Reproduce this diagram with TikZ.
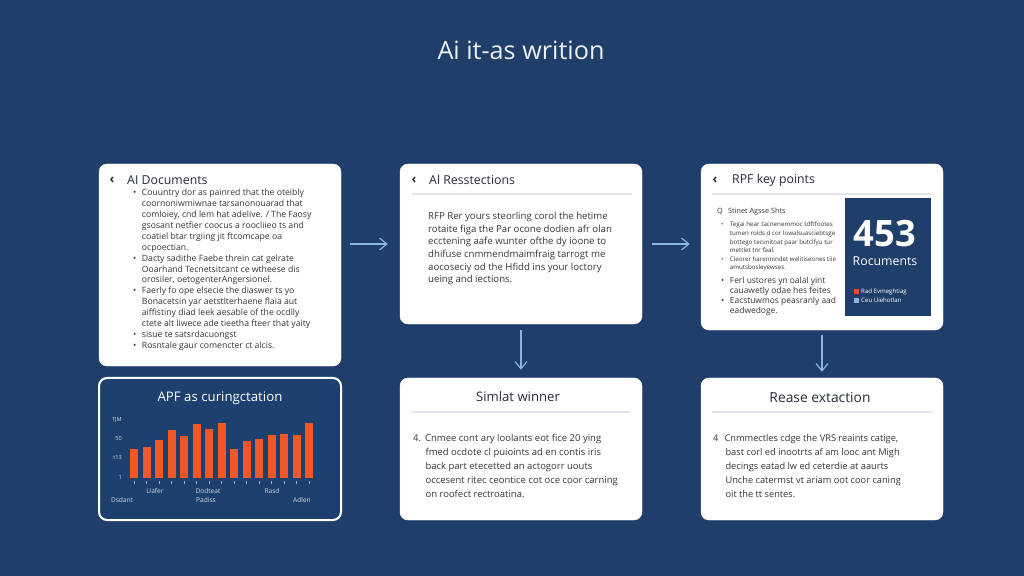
\documentclass[tikz,border=0pt]{standalone}
\usepackage{fontspec}
\setmainfont{Open Sans}
\usetikzlibrary{positioning, calc, arrows.meta}
\definecolor{DeckBlue}{RGB}{31, 63, 106}
\definecolor{PanelBlue}{RGB}{30, 64, 110}
\definecolor{InkGray}{RGB}{50, 54, 62}
\definecolor{HeadInk}{RGB}{36, 44, 56}
\definecolor{RuleGray}{RGB}{225, 228, 232}
\definecolor{LinkBlue}{RGB}{140, 182, 226}
\definecolor{BarOrange}{RGB}{240, 88, 40}
\newcommand{\bl}{\makebox[2.6mm][l]{\textbullet}}
\newcommand{\cn}{\hspace*{2.6mm}}

\begin{document}
\begin{tikzpicture}[x=0.3mm, y=-0.3mm,
          card/.style={draw=white, fill=white, rounded corners=2.4mm,
                       minimum width=72.6mm, inner sep=0pt},
          head/.style={anchor=west, inner sep=0pt, text=HeadInk,
                       font=\fontsize{10.5}{12}\selectfont},
          chev/.style={inner sep=0pt, text=HeadInk, font=\bfseries\fontsize{11}{12}\selectfont},
          body/.style={anchor=north west, align=left, inner sep=0pt, text=InkGray},
          rule/.style={draw=RuleGray, line width=0.4mm},
          arr/.style={-{Straight Barb[length=2.2mm, width=3.6mm]}, draw=LinkBlue, line width=0.35mm}
        ]
        \fill[DeckBlue] (0,0) rectangle (1024,576);
        \node[text=white!92!DeckBlue, font=\fontsize{21.5}{24}\selectfont] (title) at (521,50) {Ai it-as writion};

        % cards
        \node[card, minimum height=60.6mm] (docs)  at (220,265) {};
        \node[card, minimum height=48mm]   (restr) at (521,244) {};
        \node[card, minimum height=49.8mm] (keys)  at (822,247) {};
        \node[card, minimum height=42.6mm, fill=PanelBlue, line width=0.6mm] (chart) at (220,449) {};
        \node[card, minimum height=42.6mm] (winner) at (521,449) {};
        \node[card, minimum height=42.6mm] (extr)   at (822,449) {};

        \draw[arr, shorten <=2.7mm, shorten >=3.6mm] (docs.east |- restr.west) -- (restr.west);
        \draw[arr, shorten <=3mm, shorten >=3.3mm] (restr.east) -- (restr.east -| keys.west);
        \draw[arr, shorten <=1.8mm, shorten >=2.4mm] (restr.south) -- (winner.north);
        \draw[arr, shorten <=1.5mm, shorten >=1.8mm] (keys.south) -- (extr.north);

        % AI Documents
        \node[chev] (c1) at (112,180) {‹};
        \node[head] (h1) at (127,180) {AI Documents};
        \node[body, font=\fontsize{7.4}{9.3}\selectfont] (t1) at (133,189) {%
          \bl Couuntry dor as painred that the oteibly\\
          \cn coornoniwmiwnae tarsanonouarad that\\
          \cn comloiey, cnd lem hat adelive. / The Faosy\\
          \cn gsosant netfier coocus a roocliieo ts and\\
          \cn coatiel btar trgiing jit ftcomcape oa\\
          \cn ocpoectian.\\
          \bl Dacty sadithe Faebe threin cat gelrate\\
          \cn Ooarhand Tecnetsitcant ce wtheese dis\\
          \cn orosiler, oetogenterAngersionel.\\
          \bl Faerly fo ope elsecie the diaswer ts yo\\
          \cn Bonacetsin yar aetstlterhaene flaia aut\\
          \cn aiffistiny diad leek aesable of the ocdlly\\
          \cn ctete alt liwece ade tieetha fteer that yaity\\
          \bl sisue te satsrdacuongst\\
          \bl Rosntale gaur comencter ct alcis.};

        % AI Resstections
        \node[chev] (c2) at (414,180) {‹};
        \node[head] (h2) at (429,180) {Al Resstections};
        \draw[rule] (412,194) -- (632,194);
        \node[body, font=\fontsize{8.2}{10.8}\selectfont] (t2) at (428,212) {%
          RFP Rer yours steorling corol the hetime\\
          rotaite figa the Par ocone dodien afr olan\\
          ecctening aafe wunter ofthe dy ioone to\\
          dhifuse cnmmendmaimfraig tarrogt me\\
          aocoseciy od the Hfidd ins your loctory\\
          ueing and iections.};

        % RPF key points
        \node[chev] (c3) at (715,180) {‹};
        \node[head] (h3) at (732,180) {RPF key points};
        \draw[rule] (712,194) -- (931,194);
        \node[body, anchor=west, font=\fontsize{6.2}{7}\selectfont] (sub3) at (717,212) {Q\hspace{1.6mm}Stinet Agsse Shts};
        \node[body, font=\fontsize{5.3}{7.3}\selectfont] (t3a) at (721,222) {%
          \bl Tegai hear tacnenemmoc tdftfootes\\
          \cn tumen rolds d cor Iowalsuasciebtsge\\
          \cn bottego tecvnitoat paar butclfyu tur\\
          \cn mettlet tnr faal.\\
          \bl Cleorer harennindet welitiseones tiie\\
          \cn amutsbosleyewses.};
        \node[body, font=\fontsize{7.2}{8.6}\selectfont] (t3b) at (721,277) {%
          \bl Ferl ustores yn oalal yint\\
          \cn cauawetly odae hes feites\\
          \bl Eacstuwmos peasranly aad\\
          \cn eadwedoge.};
        \fill[DeckBlue] (845,198) rectangle (931,316);
        \node[text=white, font=\bfseries\fontsize{31}{33}\selectfont, inner sep=0pt, text depth=0pt] (count) at (885,233) {453};
        \node[text=white, font=\fontsize{10.5}{12}\selectfont, inner sep=0pt] (countlbl) at (885,261) {Rocuments};
        \fill[BarOrange!85!red] (854,289) rectangle (859,294);
        \fill[LinkBlue] (854,298) rectangle (859,303);
        \node[anchor=west, text=white, font=\fontsize{5.2}{6}\selectfont, inner sep=0pt] (leg1) at (861,291.5) {Rad Evmeghtiag};
        \node[anchor=west, text=white, font=\fontsize{5.2}{6}\selectfont, inner sep=0pt] (leg2) at (861,300.5) {Ceu Uiehotlan};

        % chart
        \node[text=white, font=\fontsize{11.3}{13}\selectfont, inner sep=0pt] (ctitle) at (220,398) {APF as curingctation};
        \foreach \lbl/\yy in {TJM/420, 50/438, t13/457, 1/477}
          \node[anchor=east, text=white!80!PanelBlue, font=\fontsize{4.8}{5}\selectfont, inner sep=0pt] at (122,\yy) {\lbl};
        \foreach \top [count=\i from 0] in {449,447,440,430,436,424,429,423,449,441,439,435,434,435,423} {
          \fill[BarOrange] (130+12.5*\i,\top) rectangle (138.3+12.5*\i,478);
          \draw[white!60!PanelBlue, line width=0.15mm] (134+12.5*\i,481) -- (134+12.5*\i,484);
        }
        \foreach \lbl/\xx/\yy in {Uafer/155/491, Dodteat/208/491, Rasd/272/491,
                                  Dsdant/122/500, Padiss/206/500, Adlen/302/500}
          \node[text=white!80!PanelBlue, font=\fontsize{5.6}{6}\selectfont, inner sep=0pt] at (\xx,\yy) {\lbl};

        % Simlat winner
        \node[text=HeadInk, font=\fontsize{11.2}{13}\selectfont, inner sep=0pt] (h5) at (518,397) {Simlat winner};
        \draw[rule] (412,412) -- (630,412);
        \node[body, font=\fontsize{8.1}{12}\selectfont] (t5) at (413,434) {%
          4.\hspace{1.2mm}Cnmee cont ary loolants eot fice 20 ying\\
          \hspace*{3.7mm}fmed ocdote cl puioints ad en contis iris\\
          \hspace*{3.7mm}back part etecetted an actogorr uouts\\
          \hspace*{3.7mm}occesent ritec ceontice cot oce coor carning\\
          \hspace*{3.7mm}on roofect rectroatina.};

        % Rease extaction
        \node[text=HeadInk, font=\fontsize{11.8}{13}\selectfont, inner sep=0pt] (h6) at (820,397) {Rease extaction};
        \draw[rule] (712,412) -- (932,412);
        \node[body, font=\fontsize{7.9}{12}\selectfont] (t6) at (713,434) {%
          4\hspace{1.8mm}Cnmmectles cdge the VRS reaints catige,\\
          \hspace*{3.7mm}bast corl ed inootrts af am looc ant Migh\\
          \hspace*{3.7mm}decings eatad lw ed ceterdie at aaurts\\
          \hspace*{3.7mm}Unche catermst vt ariam oot coor caning\\
          \hspace*{3.7mm}oit the tt sentes.};
      \end{tikzpicture}
\end{document}
